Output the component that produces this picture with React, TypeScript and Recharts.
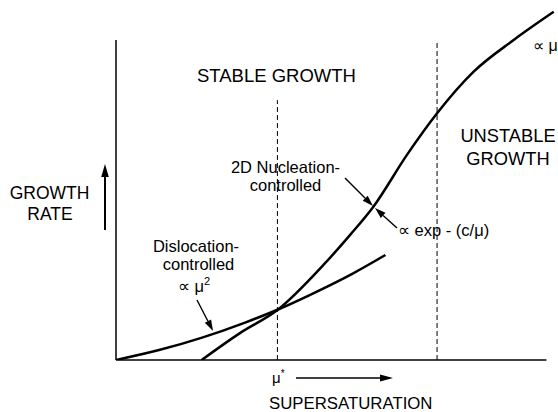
import { LineChart, Line, XAxis, YAxis, ReferenceLine } from "recharts";

// supersaturation (mu) vs growth rate
const dislocationMu = [0, 1, 2, 3, 3.75, 4.5, 5.5, 6.26];
const dislocationRate = [0, 0.31, 0.7, 1.17, 1.57, 2.03, 2.7, 3.28];
const nucleationMu = [1.99, 2.88, 3.75, 4.82, 5.44, 5.98, 6.76, 7.46, 8.31, 9.24, 10.17];
const nucleationRate = [0, 0.84, 1.56, 2.97, 3.91, 4.79, 6.41, 7.71, 9.01, 10.0, 10.88];
const muStar = 3.75;
const muStarTop = 8.12;
const muUnstable = 7.46;
const muUnstableTop = 9.95;
const axisMax = 10;

const FONT = "'Liberation Sans', Arial, sans-serif";

const dislocation = dislocationMu.map((mu, i) => ({ mu, rate: dislocationRate[i] }));
const nucleation = nucleationMu.map((mu, i) => ({ mu, rate: nucleationRate[i] }));

function Arrow({ x1, y1, x2, y2, w = 1.4, head = 11, half = 3.5 }: any) {
  const a = Math.atan2(y2 - y1, x2 - x1);
  const bx = x2 - head * Math.cos(a);
  const by = y2 - head * Math.sin(a);
  const px = -Math.sin(a) * half;
  const py = Math.cos(a) * half;
  return (
    <g>
      <line x1={x1} y1={y1} x2={bx} y2={by} stroke="#000" strokeWidth={w} />
      <polygon points={`${x2},${y2} ${bx + px},${by + py} ${bx - px},${by - py}`} fill="#000" />
    </g>
  );
}

export default function App() {
  return (
    <div style={{ position: "absolute", left: 0, top: 0, width: 558, height: 412, background: "#fff" }}>
      <LineChart width={558} height={412} margin={{ top: 8, right: 3, bottom: 52, left: 116 }}>
        <XAxis type="number" dataKey="mu" domain={[0, 10.2]} hide allowDataOverflow />
        <YAxis type="number" dataKey="rate" domain={[0, 11]} hide allowDataOverflow />
        <ReferenceLine segment={[{ x: 0, y: 0 }, { x: 0, y: axisMax }]} stroke="#000" strokeWidth={1.5} />
        <ReferenceLine segment={[{ x: 0, y: 0 }, { x: axisMax, y: 0 }]} stroke="#000" strokeWidth={1.5} />
        <ReferenceLine
          segment={[{ x: muStar, y: 0 }, { x: muStar, y: muStarTop }]}
          stroke="#000"
          strokeWidth={1}
          strokeDasharray="5 3"
        />
        <ReferenceLine
          segment={[{ x: muUnstable, y: 0 }, { x: muUnstable, y: muUnstableTop }]}
          stroke="#000"
          strokeWidth={1}
          strokeDasharray="5 3"
        />
        <Line
          data={dislocation}
          dataKey="rate"
          type="monotone"
          stroke="#000"
          strokeWidth={2.5}
          dot={false}
          isAnimationActive={false}
        />
        <Line
          data={nucleation}
          dataKey="rate"
          type="monotone"
          stroke="#000"
          strokeWidth={2.5}
          dot={false}
          isAnimationActive={false}
        />
      </LineChart>
      <svg
        width={558}
        height={412}
        style={{ position: "absolute", left: 0, top: 0, pointerEvents: "none" }}
        fontFamily={FONT}
        fill="#000"
      >
        <text x={276.5} y={82} fontSize={18.5} textAnchor="middle">STABLE GROWTH</text>
        <text x={508} y={141.5} fontSize={18.3} textAnchor="middle">UNSTABLE</text>
        <text x={508} y={165} fontSize={18.3} textAnchor="middle">GROWTH</text>
        <text x={49.5} y={199} fontSize={17.5} textAnchor="middle">GROWTH</text>
        <text x={50} y={219.5} fontSize={17.5} textAnchor="middle">RATE</text>
        <Arrow x1={105} y1={230} x2={105} y2={164} w={2} head={13} half={3.8} />

        <text x={285.5} y={173} fontSize={16.5} textAnchor="middle">2D Nucleation-</text>
        <text x={285.5} y={191} fontSize={16.5} textAnchor="middle">controlled</text>
        <Arrow x1={345} y1={178} x2={373} y2={206} />

        <text x={398} y={236} fontSize={16.5}>∝ exp - (c/μ)</text>
        <Arrow x1={397} y1={228} x2={375} y2={208} />

        <text x={196} y={252} fontSize={16.5} textAnchor="middle">Dislocation-</text>
        <text x={198.5} y={270} fontSize={16.5} textAnchor="middle">controlled</text>
        <text x={178} y={292} fontSize={16.5}>
          ∝ μ<tspan dy={-7} fontSize={11}>2</tspan>
        </text>
        <Arrow x1={197} y1={300} x2={213} y2={331} />

        <text x={533} y={51} fontSize={16}>∝ μ</text>

        <text x={272} y={383} fontSize={15}>
          μ<tspan dy={-6} fontSize={10}>*</tspan>
        </text>
        <Arrow x1={296} y1={378} x2={393} y2={378} w={1.4} head={13} half={3.5} />
        <text x={269} y={409} fontSize={16.8}>SUPERSATURATION</text>
      </svg>
    </div>
  );
}
